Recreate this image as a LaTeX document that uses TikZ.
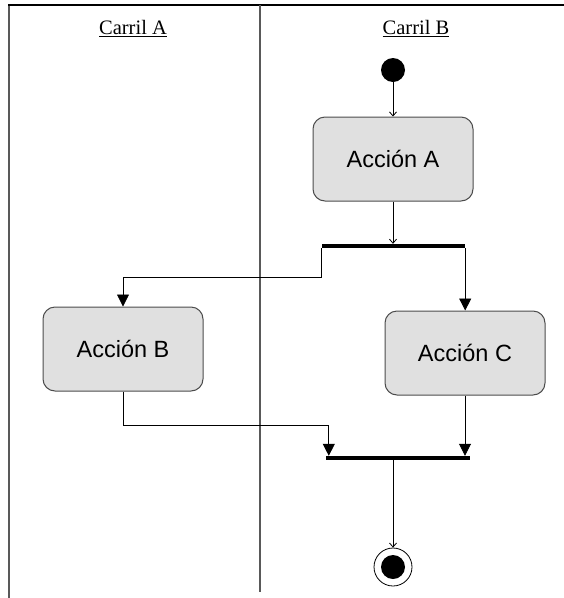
\documentclass[tikz,border=0pt]{standalone}
\usepackage{fontspec}
\setmainfont{Liberation Serif}
\newfontfamily\actfont{Liberation Sans}
\usetikzlibrary{arrows.meta,calc}
\begin{document}
\begin{tikzpicture}[x=1pt,y=-1pt,
  lane/.style={draw=black!65,line width=1.5pt},
  lanetitle/.style={font=\fontsize{20.5}{24}\selectfont},
  actbox/.style={draw=black!70,line width=1pt,fill=black!12,rounded corners=12pt,
    minimum width=160pt,minimum height=84pt,font=\actfont\fontsize{23.5}{27}\selectfont},
  syncbar/.style={fill=black,inner sep=0pt,minimum height=4pt},
  flow/.style={draw=black,line width=0.8pt},
  openarrow/.style={flow,-{Straight Barb[length=4pt,width=7pt]}},
  tri/.style={flow,-{Triangle[length=12pt,width=12pt]}}]
\useasboundingbox (0,0) rectangle (564,598);

% swimlane frame
\draw[lane] (9,598) -- (9,5);
\draw[draw=black,line width=1.5pt] (8.25,5) -- (564,5);
\draw[lane] (260,5) -- (260,592);
\node[lanetitle] (laneA) at (133,28.5) {\underline{Carril A}};
\node[lanetitle] (laneB) at (416,28.5) {\underline{Carril B}};

% nodes
\node[circle,fill=black,minimum size=24pt,inner sep=0pt] (start) at (393,70) {};
\node[actbox] (actA) at (393,159) {Acción A};
\node[syncbar,minimum width=143pt] (fork) at (393.5,246) {};
\node[actbox] (actB) at (123,349) {Acción B};
\node[actbox] (actC) at (465,353) {Acción C};
\node[syncbar,minimum width=144pt] (join) at (398,458) {};
\node[circle,draw=black,line width=0.8pt,fill=white,minimum size=38pt,inner sep=0pt] (end) at (393,567) {};
\node[circle,fill=black,minimum size=24pt,inner sep=0pt] (endcore) at (end.center) {};

% connectors
\draw[openarrow] (start) -- (actA);
\draw[openarrow] (actA.south) -- (actA.south |- fork.north);
\draw[tri] (fork.south west) -- ++(0,29) -| (actB.north);
\draw[tri] (fork.south east) -- (fork.south east |- actC.north);
\coordinate (joinL) at ($(join.north west)+(3,0)$);
\draw[tri] (actB.south) -- ++(0,34) -| (joinL);
\draw[tri] (actC.south) -- (actC.south |- join.north);
\draw[openarrow] (end |- join.south) -- (end.north);
\end{tikzpicture}
\end{document}
